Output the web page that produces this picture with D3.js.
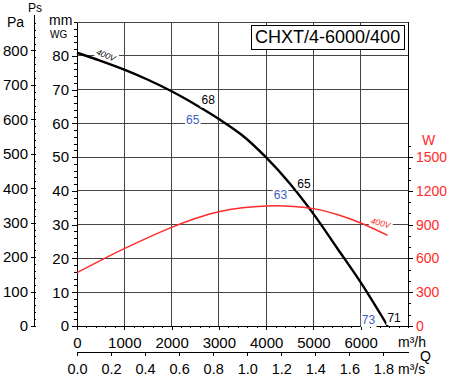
<!DOCTYPE html>
<html>
<head>
<meta charset="utf-8">
<script src="https://cdn.jsdelivr.net/npm/d3@7"></script>
<style>
  body { margin: 0; background: #fff; }
  svg { font-family: "Liberation Sans", Arial, sans-serif; }
</style>
</head>
<body>
<div id="chart"></div>
<script>
// tick values
var flowTicks = [0, 1000, 2000, 3000, 4000, 5000, 6000];
var flowSecTicks = [0.0, 0.2, 0.4, 0.6, 0.8, 1.0, 1.2, 1.4, 1.6, 1.8];
var mmTicks = [0, 10, 20, 30, 40, 50, 60, 70, 80];
var paTicks = [0, 100, 200, 300, 400, 500, 600, 700, 800];
var wTicks = [0, 300, 600, 900, 1200, 1500];

// static pressure curve (m3/h -> mm WG)
var pressureFlow = [0, 500, 1000, 1500, 2000, 2500, 3000, 3500, 4000, 4500, 5000, 5500, 6000, 6570];
var pressureMm = [80.9, 78.5, 75.9, 72.9, 69.5, 65.6, 61.3, 56.4, 49.9, 42.2, 33.2, 23.1, 12.9, 0];

// absorbed power curve (m3/h -> W)
var powerFlow = [0, 500, 1000, 1500, 2000, 2500, 3000, 3500, 4000, 4500, 5000, 5500, 6000, 6570];
var powerW = [475, 583, 687, 785, 876, 955, 1015, 1050, 1066, 1064, 1042, 990, 915, 805];

// annotations on the curves
var noteText = ["400V", "68", "65", "65", "63", "73", "71", "400V"];
var noteFlow = [614, 2775, 2447, 4799, 4301, 6165, 6705, 6420];
var noteValue = [80.2, 65.6, 59.9, 41.0, 37.5, 0.6, 1.2, 915];
var noteKind = ["voltage", "black", "blue", "black", "blue", "blue", "black", "voltagePower"];

var title = "CHXT/4-6000/400";

var width = 450, height = 376;
var margin = { top: 22, right: 42, bottom: 50, left: 77 };
var plotW = width - margin.left - margin.right;
var plotH = height - margin.top - margin.bottom;

var svg = d3.select("#chart")
  .append("svg")
  .attr("width", width)
  .attr("height", height);

var red = "#ff2b2b";
var blue = "#3d60c4";

// scales
var x = d3.scaleLinear().domain([0, 7000]).range([margin.left, margin.left + plotW]);
var xs = d3.scaleLinear().domain([0, 7000 / 3600]).range([margin.left, margin.left + plotW]);
var y = d3.scaleLinear().domain([0, 90]).range([margin.top + plotH, margin.top]);
var yPa = d3.scaleLinear().domain([0, 90 * 9.80665]).range([margin.top + plotH, margin.top]);
var yPaAxis = yPa.copy().domain([0, yPa.invert(14)]).range([margin.top + plotH, 14]);
var yW = d3.scaleLinear().domain([0, 2700]).range([margin.top + plotH, margin.top]);
var yWAxis = yW.copy().domain([0, 1600]).range([yW(0), yW(1600)]);

// grid
var grid = svg.append("g").attr("class", "grid")
  .attr("stroke", "#444")
  .attr("stroke-width", 1)
  .attr("shape-rendering", "crispEdges");

grid.selectAll(".hline")
  .data(d3.range(10, 91, 10))
  .enter()
  .append("line")
  .attr("x1", x(0)).attr("x2", x(7000))
  .attr("y1", function (d) { return y(d); })
  .attr("y2", function (d) { return y(d); });

grid.selectAll(".vline")
  .data(d3.range(1000, 7001, 1000))
  .enter()
  .append("line")
  .attr("y1", y(0)).attr("y2", y(90))
  .attr("x1", function (d) { return x(d); })
  .attr("x2", function (d) { return x(d); });

function styleAxis(g, color) {
  g.selectAll("path, line").attr("stroke", "#000").attr("shape-rendering", "crispEdges");
  g.selectAll("text").attr("fill", color || "#000").attr("font-size", null);
  g.attr("font-family", null).attr("font-size", null);
}

// flow axis (m3/h)
svg.append("g")
  .attr("transform", "translate(0," + y(0) + ")")
  .call(d3.axisBottom(x).tickValues(d3.range(0, 7001, 200)).tickSize(2).tickFormat(""))
  .call(styleAxis);

svg.append("g")
  .attr("transform", "translate(0," + y(0) + ")")
  .style("font-size", "15px")
  .call(d3.axisBottom(x).tickValues(flowTicks).tickSize(4).tickSizeOuter(0).tickPadding(7).tickFormat(d3.format("d")))
  .call(styleAxis);

// flow axis (m3/s)
svg.append("g")
  .attr("transform", "translate(0,352)")
  .style("font-size", "14.5px")
  .call(d3.axisBottom(xs).tickValues(flowSecTicks).tickSize(4).tickSizeOuter(0).tickPadding(8).tickFormat(d3.format(".1f")))
  .call(styleAxis);

// mm WG axis
svg.append("g")
  .attr("transform", "translate(" + x(0) + ",0)")
  .call(d3.axisLeft(y).tickValues(d3.range(0, 91, 2)).tickSize(3).tickSizeOuter(0).tickFormat(""))
  .call(styleAxis);

svg.append("g")
  .attr("transform", "translate(" + x(0) + ",0)")
  .style("font-size", "15px")
  .call(d3.axisLeft(y).tickValues(mmTicks).tickSize(5).tickSizeOuter(0).tickPadding(3))
  .call(styleAxis);

// Pa axis
var paX = 34;
svg.append("g")
  .attr("transform", "translate(" + paX + ",0)")
  .call(d3.axisRight(yPaAxis).tickValues(d3.range(0, 881, 20)).tickSize(2).tickSizeOuter(0).tickFormat(""))
  .call(styleAxis);

svg.append("g")
  .attr("transform", "translate(" + paX + ",0)")
  .style("font-size", "15px")
  .call(d3.axisLeft(yPa).tickValues(paTicks).tickSize(3).tickSizeOuter(0).tickPadding(3))
  .call(function (g) { g.select(".domain").remove(); })
  .call(styleAxis);

// power axis (W)
svg.append("g")
  .attr("transform", "translate(" + x(7000) + ",0)")
  .call(d3.axisRight(yWAxis).tickValues(d3.range(0, 1601, 100)).tickSize(3).tickSizeOuter(0).tickFormat(""))
  .call(function (g) { g.select(".domain").remove(); })
  .call(styleAxis);

svg.append("g")
  .attr("transform", "translate(" + x(7000) + ",0)")
  .style("font-size", "14px")
  .call(d3.axisRight(yW).tickValues(wTicks).tickSize(5).tickSizeOuter(0).tickPadding(3).tickFormat(d3.format("d")))
  .call(function (g) { g.select(".domain").remove(); })
  .call(function (g) { styleAxis(g, red); });

// right border line
svg.append("line")
  .attr("x1", x(7000)).attr("x2", x(7000))
  .attr("y1", y(0)).attr("y2", y(90))
  .attr("stroke", "#000").attr("shape-rendering", "crispEdges");

// unit labels
var units = svg.append("g").attr("fill", "#000");
units.append("text").attr("x", 28).attr("y", 12).attr("font-size", "12px").text("Ps");
units.append("text").attr("x", 7).attr("y", 27).attr("font-size", "14px").text("Pa");
units.append("text").attr("x", 49).attr("y", 25).attr("font-size", "14px").text("mm");
units.append("text").attr("x", 50).attr("y", 38).attr("font-size", "10px").text("WG");
units.append("text").attr("x", 422).attr("y", 145).attr("font-size", "14px").attr("fill", red).text("W");
units.append("text").attr("x", 398).attr("y", 347).attr("font-size", "14px").text("m³/h");
units.append("text").attr("x", 420).attr("y", 361).attr("font-size", "14px").text("Q");
units.append("text").attr("x", 398).attr("y", 374).attr("font-size", "14px").text("m³/s");

// curves
var pressureLine = d3.line()
  .x(function (d, i) { return x(pressureFlow[i]); })
  .y(function (d) { return y(d); })
  .curve(d3.curveCatmullRom);

svg.append("path")
  .datum(pressureMm)
  .attr("fill", "none")
  .attr("stroke", "#000")
  .attr("stroke-width", 2.4)
  .attr("d", pressureLine);

var powerLine = d3.line()
  .x(function (d, i) { return x(powerFlow[i]); })
  .y(function (d) { return yW(d); })
  .curve(d3.curveCatmullRom);

svg.append("path")
  .datum(powerW)
  .attr("fill", "none")
  .attr("stroke", red)
  .attr("stroke-width", 1.4)
  .attr("d", powerLine);

// annotations with white backing
var notes = svg.selectAll(".note")
  .data(noteText)
  .enter()
  .append("g")
  .attr("class", "note")
  .attr("transform", function (d, i) {
    var k = noteKind[i];
    var py = k === "voltagePower" ? yW(noteValue[i]) : y(noteValue[i]);
    var rot = k === "voltage" ? 22 : (k === "voltagePower" ? 14 : 0);
    return "translate(" + x(noteFlow[i]) + "," + py + ") rotate(" + rot + ")";
  });

notes.append("text")
  .attr("text-anchor", "middle")
  .attr("dy", function (d, i) { return noteKind[i].indexOf("voltage") === 0 ? "0.35em" : 0; })
  .attr("font-size", function (d, i) { return noteKind[i].indexOf("voltage") === 0 ? "8.5px" : "12px"; })
  .attr("font-style", function (d, i) { return noteKind[i].indexOf("voltage") === 0 ? "italic" : null; })
  .attr("fill", function (d, i) {
    var k = noteKind[i];
    return k === "blue" ? blue : (k === "voltagePower" ? red : "#000");
  })
  .text(function (d) { return d; });

notes.each(function () {
  var g = d3.select(this);
  var b = g.select("text").node().getBBox();
  g.insert("rect", "text")
    .attr("x", b.x - 1).attr("y", b.y)
    .attr("width", b.width + 2).attr("height", b.height)
    .attr("fill", "#fff");
});

// model title box
var tg = svg.append("g");
var tt = tg.append("text")
  .attr("x", x(5300))
  .attr("y", 43)
  .attr("text-anchor", "middle")
  .attr("font-size", "18px")
  .attr("fill", "#000")
  .text(title);
var tb = tt.node().getBBox();
tg.insert("rect", "text")
  .attr("x", Math.round(tb.x - 4) + 0.5)
  .attr("y", 25.5)
  .attr("width", Math.round(tb.width + 8))
  .attr("height", 24)
  .attr("fill", "#fff")
  .attr("stroke", "#000");
</script>
</body>
</html>
